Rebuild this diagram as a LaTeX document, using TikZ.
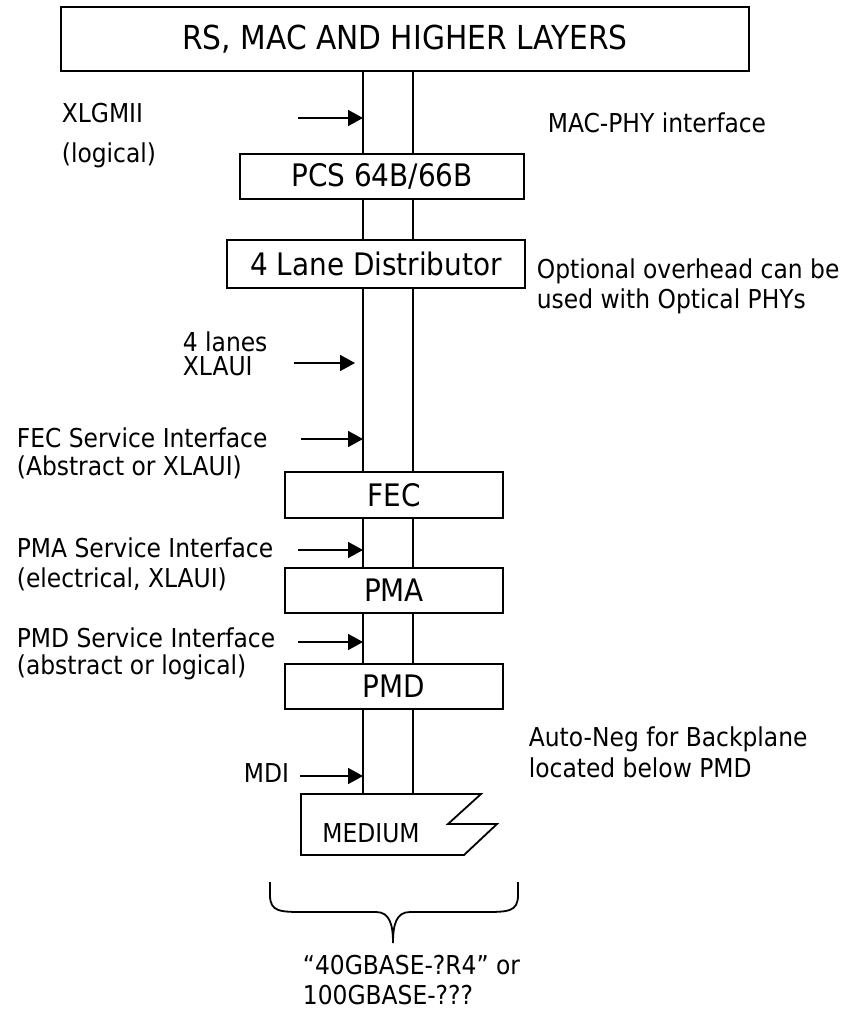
\documentclass[tikz,border=0pt]{standalone}
\usepackage{fontspec}
\setmainfont{DejaVu Sans Condensed}
\usetikzlibrary{arrows.meta}
\tikzset{
  layer/.style={draw, line width=0.9pt, fill=white, inner sep=0pt, font=\fontsize{15.5}{18}\selectfont},
  lbl/.style={anchor=west, align=left, inner sep=0pt, font=\fontsize{13}{15}\selectfont},
  ifarrow/.style={-{Triangle[length=7.5pt,width=8pt]}, line width=0.9pt}
}

\begin{document}
\begin{tikzpicture}[x=0.5pt, y=-0.5pt, line width=0.9pt]
\useasboundingbox (0,0) rectangle (854,1009);
\coordinate (laneL) at (363,0);
\coordinate (laneR) at (413,0);
\coordinate (medtop) at (0,794);

% sublayers
\node[layer, minimum width=344pt, minimum height=32pt, font=\fontsize{16.5}{19}\selectfont] (top) at (405,39) {RS, MAC AND HIGHER LAYERS};
\node[layer, minimum width=142pt, minimum height=22.5pt] (pcs) at (382,176.5) {PCS 64B/66B};
\node[layer, minimum width=149pt, minimum height=24pt] (dist) at (376,264) {4 Lane Distributor};
\node[layer, minimum width=109pt, minimum height=23pt] (fec) at (394,495) {FEC};
\node[layer, minimum width=109pt, minimum height=22.5pt] (pma) at (394,590.5) {PMA};
\node[layer, minimum width=109pt, minimum height=22.5pt] (pmd) at (394,686.5) {PMD};

% lanes
\foreach \a/\b in {top/pcs, pcs/dist, dist/fec, fec/pma, pma/pmd} {
  \draw (\a.south -| laneL) -- (\b.north -| laneL);
  \draw (\a.south -| laneR) -- (\b.north -| laneR);
}
\draw (pmd.south -| laneL) -- (medtop -| laneL);
\draw (pmd.south -| laneR) -- (medtop -| laneR);

% medium
\draw (301,794) -- (481,794) -- (448,824) -- (497,824) -- (464,855) -- (301,855) -- cycle;
\node[font=\fontsize{13}{15}\selectfont, inner sep=0pt] (medium) at (371,833) {MEDIUM};

% interface labels
\node[lbl] (xlgmii) at (61,136) {XLGMII\\[5pt](logical)};
\node[lbl] (macphy) at (547,123) {MAC-PHY interface};
\node[lbl] (optional) at (536,286) {Optional overhead can be\\used with Optical PHYs};
\node[lbl] (xlaui) at (182,354) {4 lanes\\[-3pt]XLAUI};
\node[lbl] (fecsi) at (16,453.5) {FEC Service Interface\\[-1pt](Abstract or XLAUI)};
\node[lbl] (pmasi) at (16,564) {PMA Service Interface\\(electrical, XLAUI)};
\node[lbl] (pmdsi) at (16,653.5) {PMD Service Interface\\[-1.5pt](abstract or logical)};
\node[lbl] (mdi) at (243,773) {MDI};
\node[lbl] (autoneg) at (528,752.5) {Auto-Neg for Backplane\\[0.5pt]located below PMD};

% arrows
\coordinate (a1) at (298,118);
\coordinate (a2) at (294,363);
\coordinate (a3) at (301,439);
\coordinate (a4) at (298,550);
\coordinate (a5) at (298,642);
\coordinate (a6) at (300,776);
\foreach \c in {a1,a3,a4,a5,a6}
  \draw[ifarrow] (\c) -- (\c -| laneL);
\draw[ifarrow, shorten >=4pt] (a2) -- (a2 -| laneL);

% brace
\draw (270,882) -- (270,895) .. controls (270,912) and (280,912) .. (305,912) -- (376,912)
  .. controls (390,912) and (393,925) .. (393,943)
  .. controls (393,925) and (396,912) .. (410,912) -- (483,912)
  .. controls (508,912) and (518,912) .. (518,895) -- (518,882);
\node[lbl] (phyname) at (302,980) {“40GBASE-?R4” or\\100GBASE-???};
\end{tikzpicture}
\end{document}
